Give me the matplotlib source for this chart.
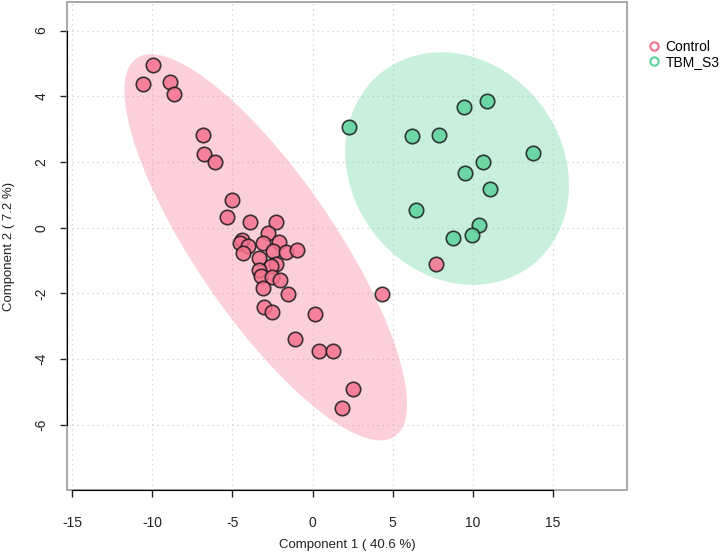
import numpy as np
import matplotlib
matplotlib.use("Agg")
import matplotlib.pyplot as plt
from matplotlib.patches import Ellipse, Rectangle

plt.rcParams['font.family'] = ['Liberation Sans', 'DejaVu Sans']

# PCA scores
control_x = [-9.95, -10.57, -8.90, -8.65, -6.82, -6.78, -6.09, -5.01, -5.36, -3.90,
             -2.28, -2.76, -4.42, -4.53, -4.01, -3.07, -2.09, -4.32, -2.45, -1.66,
             -0.99, -3.32, -2.28, -2.61, -3.32, -3.22, -2.55, -2.03, -3.07, -1.51,
             4.36, -3.01, -2.55, 0.16, -1.09, 0.41, 1.30, 2.55, 1.86, 7.71]
control_y = [4.94, 4.38, 4.45, 4.07, 2.83, 2.25, 2.00, 0.83, 0.34, 0.19,
             0.19, -0.16, -0.37, -0.45, -0.57, -0.47, -0.44, -0.77, -0.72, -0.75,
             -0.69, -0.93, -1.10, -1.16, -1.28, -1.46, -1.50, -1.59, -1.82, -2.02,
             -2.02, -2.42, -2.57, -2.62, -3.38, -3.74, -3.74, -4.91, -5.49, -1.11]
tbm_x = [2.28, 6.20, 7.92, 9.46, 10.92, 13.79, 10.67, 9.53, 11.09, 6.46, 10.40, 9.94, 8.76]
tbm_y = [3.08, 2.78, 2.83, 3.67, 3.85, 2.27, 2.01, 1.66, 1.18, 0.54, 0.07, -0.22, -0.30]

groups = ["Control", "TBM_S3"]
point_colors = ["#F5728F", "#5CD29A"]
x_ticks = [-15, -10, -5, 0, 5, 10, 15]
y_ticks = [-6, -4, -2, 0, 2, 4, 6]


def conf_ellipse(x, y, color, ax):
    # 95% confidence ellipse, as mixOmics draws it
    pts = np.column_stack([x, y])
    cov = np.cov(pts, rowvar=False)
    vals, vecs = np.linalg.eigh(cov)
    order = vals.argsort()[::-1]
    vals, vecs = vals[order], vecs[:, order]
    t = np.sqrt(-2 * np.log(0.05))
    angle = np.degrees(np.arctan2(vecs[1, 0], vecs[0, 0]))
    e = Ellipse(pts.mean(axis=0), 2 * t * np.sqrt(vals[0]), 2 * t * np.sqrt(vals[1]),
                angle=angle, facecolor=color, alpha=0.33, edgecolor="none", zorder=1)
    ax.add_patch(e)


fig = plt.figure(figsize=(7.26, 5.56), dpi=100)
ax = fig.add_axes([0.0919, 0.1187, 0.7717, 0.8777])

ax.set_xlim(-15.35, 19.64)
ax.set_ylim(-7.98, 6.87)

for gx in x_ticks:
    ax.axvline(gx, color="#d0d0d0", lw=0.9, ls=(0, (1, 3)), zorder=0)
for gy in y_ticks:
    ax.axhline(gy, color="#d0d0d0", lw=0.9, ls=(0, (1, 3)), zorder=0)

data = [(control_x, control_y), (tbm_x, tbm_y)]
for (xs, ys), col in zip(data, point_colors):
    conf_ellipse(xs, ys, col, ax)
for (xs, ys), col in zip(data, point_colors):
    ax.scatter(xs, ys, s=108, facecolor=col, edgecolor="#1a1a1a", linewidth=1.2,
               alpha=0.85, zorder=3)

# R style: grey box, black axis lines between first and last tick
for side in ["top", "right", "left", "bottom"]:
    ax.spines[side].set_visible(False)
ax.add_patch(Rectangle((0, 0), 1, 1, transform=ax.transAxes, fill=False,
                       edgecolor="#999999", lw=1.2, clip_on=False, zorder=5))
ax.spines["left"].set_visible(True)
ax.spines["bottom"].set_visible(True)
ax.spines["left"].set_bounds(-6, 6)
ax.spines["bottom"].set_bounds(-15, 15)
ax.spines["left"].set_color("black")
ax.spines["bottom"].set_color("black")
ax.spines["left"].set_zorder(6)
ax.spines["bottom"].set_zorder(6)

ax.set_xticks(x_ticks)
ax.set_yticks(y_ticks)
ax.set_xticklabels([str(v) for v in x_ticks])
ax.set_yticklabels([str(v) for v in y_ticks], rotation=90, va="center")
ax.tick_params(direction="out", length=5, width=1, labelsize=10, colors="#222222")
ax.tick_params(axis="x", pad=14)
ax.tick_params(axis="y", pad=8)

ax.set_xlabel("Component 1 ( 40.6 %)", fontsize=9.5, color="#222222", labelpad=6)
ax.set_ylabel("Component 2 ( 7.2 %)", fontsize=9.5, color="#222222", labelpad=14)

handles = [plt.Line2D([], [], marker="o", ls="none", markerfacecolor="none",
                      markeredgecolor=c, markeredgewidth=1.5, markersize=6)
           for c in point_colors]
fig.legend(handles, groups, loc="upper left", bbox_to_anchor=(0.88, 0.94),
           frameon=False, fontsize=10, handletextpad=0.2, labelspacing=0.05,
           handlelength=1.2, borderpad=0)

fig.savefig("out.png", dpi=100)
